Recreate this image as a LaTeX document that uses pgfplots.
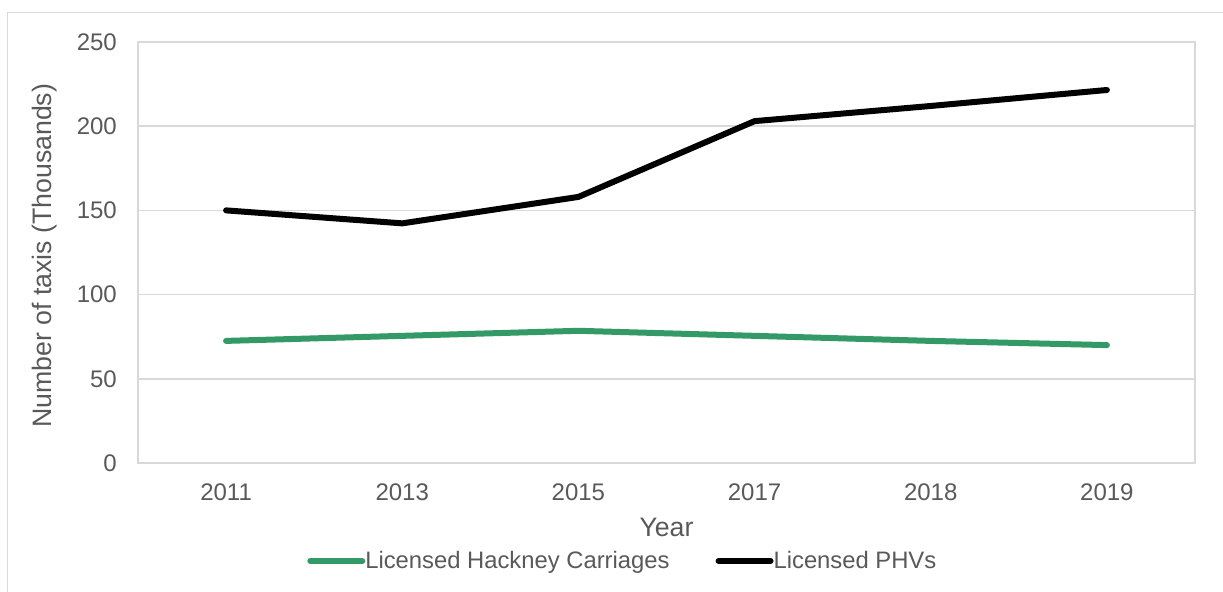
\documentclass[border=0pt]{standalone}
\usepackage{fontspec}
\setmainfont{Liberation Sans}
\usepackage{pgfplots}
\pgfplotsset{compat=1.18}
\definecolor{gridc}{HTML}{D9D9D9}
\definecolor{txt}{HTML}{595959}
\definecolor{hack}{HTML}{339966}
\begin{document}
\begin{tikzpicture}[x=1bp,y=1bp]
\useasboundingbox (0,0) rectangle (1223,592);
\draw[gridc, line width=1.5bp] (7.5,0) -- (7.5,579.5) -- (1223,579.5);
\begin{axis}[
 at={(138bp,129bp)}, anchor=south west,
 scale only axis, width=1057bp, height=421bp,
 xmin=-0.5, xmax=5.5, ymin=0, ymax=250,
 xtick={0,1,2,3,4,5}, xticklabels={2011,2013,2015,2017,2018,2019},
 ytick={0,50,100,150,200,250},
 ymajorgrids, grid style={gridc, line width=1.5bp},
 axis line style={gridc, line width=1.5bp},
 major tick length=0pt,
 /pgf/number format/assume math mode=true,
 tick label style={font=\fontsize{24bp}{28bp}\selectfont, text=txt, inner sep=0pt},
 yticklabel style={anchor=east, xshift=-21bp},
 xticklabel style={anchor=north, yshift=-21bp},
 xlabel={Year}, ylabel={Number of taxis (Thousands)},
 label style={font=\fontsize{26.7bp}{30bp}\selectfont, text=txt, inner sep=0pt},
 xlabel style={at={(axis description cs:0.5,-0.152)}, anchor=center},
 ylabel style={at={(axis description cs:-0.088,0.492)}, anchor=center},
 legend style={at={(axis description cs:0.16,-0.2328)}, anchor=west, draw=none, fill=none,
   legend columns=2, font=\fontsize{23.8bp}{28bp}\selectfont, text=txt, inner sep=0pt,
   nodes={inner sep=0pt},
   /tikz/every odd column/.append style={column sep=0bp},
   /tikz/every even column/.append style={column sep=46bp}},
 legend image code/.code={\draw[#1, line cap=round] (0bp,0bp) -- (52bp,0bp);},
]
\addplot[hack, line width=6bp, line cap=round, line join=round] coordinates {(0,72.5)(1,75.5)(2,78.5)(3,75.5)(4,72.5)(5,70)};
\addlegendentry{Licensed Hackney Carriages}
\addplot[black, line width=6bp, line cap=round, line join=round] coordinates {(0,150)(1,142.3)(2,158)(3,203)(4,212)(5,221.5)};
\addlegendentry{Licensed PHVs}
\end{axis}
\end{tikzpicture}
\end{document}
